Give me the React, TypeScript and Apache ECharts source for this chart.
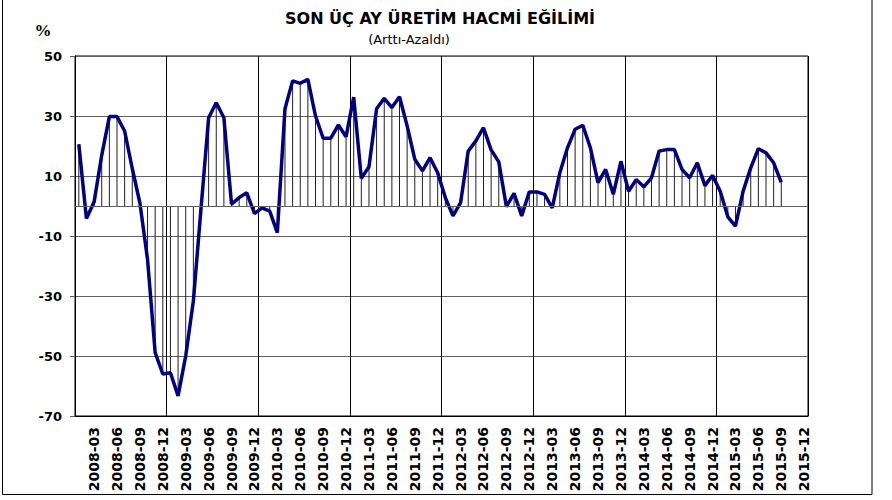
import React, { useEffect, useRef } from "react";
import * as echarts from "echarts";

const years = [2008, 2009, 2010, 2011, 2012, 2013, 2014, 2015];
const months = ["01", "02", "03", "04", "05", "06", "07", "08", "09", "10", "11", "12"];
const categories = years.flatMap((y) => months.map((m) => `${y}-${m}`));

const trendValues = [
  20.6, -4.2, 1.3, 16.9, 29.8, 29.8, 25.0, 12.5, 1.0, -17.8, -48.9, -56.0,
  -55.6, -63.3, -50.0, -31.7, -1.0, 29.4, 34.4, 29.4, 0.6, 2.8, 4.4, -2.5,
  -0.6, -1.7, -8.9, 32.4, 41.7, 40.9, 42.2, 30.0, 22.6, 22.6, 27.0, 23.1,
  36.3, 9.2, 13.1, 32.4, 35.9, 32.8, 36.4, 26.7, 15.6, 11.7, 16.1, 11.1,
  2.8, -3.3, 1.1, 18.3, 21.7, 26.1, 18.7, 14.7, -0.2, 4.2, -3.3, 4.7,
  4.7, 3.9, -0.6, 11.1, 19.4, 25.6, 26.9, 19.4, 7.8, 12.2, 3.9, 14.9,
  4.9, 8.8, 6.4, 9.4, 18.3, 18.8, 18.8, 12.2, 9.4, 14.4, 6.8, 10.2,
  4.9, -3.6, -6.7, 4.9, 12.7, 19.1, 17.7, 14.4, 7.9,
];

const yTickValues = [-70, -50, -30, -10, 10, 30, 50];
const titleText = "SON ÜÇ AY ÜRETİM HACMİ EĞİLİMİ";
const subtitleText = "(Arttı-Azaldı)";
const unitText = "%";

export default function App() {
  const ref = useRef<HTMLDivElement>(null);

  useEffect(() => {
    document.body.style.margin = "0";
    if (!ref.current) return;
    const chart = echarts.init(ref.current, undefined, { renderer: "svg" });
    const font = '"DejaVu Sans", sans-serif';
    chart.setOption({
      animation: false,
      backgroundColor: "#ffffff",
      grid: {
        left: 75,
        right: 84,
        top: 56,
        bottom: 84,
        show: true,
        borderColor: "#000000",
        borderWidth: 1,
        backgroundColor: "transparent",
      },
      graphic: [
        {
          type: "rect",
          shape: { x: 2.5, y: -2, width: 869.5, height: 496.5 },
          style: { fill: "none", stroke: "#000000", lineWidth: 1 },
          silent: true,
        },
        {
          type: "text",
          x: 440,
          y: 18,
          style: {
            text: titleText,
            fontFamily: font,
            fontWeight: "bold",
            fontSize: 16,
            fill: "#000000",
            align: "center",
            verticalAlign: "middle",
          },
        },
        {
          type: "text",
          x: 409,
          y: 39,
          style: {
            text: subtitleText,
            fontFamily: font,
            fontSize: 13,
            fill: "#000000",
            align: "center",
            verticalAlign: "middle",
          },
        },
        {
          type: "text",
          x: 43,
          y: 30,
          style: {
            text: unitText,
            fontFamily: '"Liberation Serif", serif',
            fontWeight: "bold",
            fontSize: 17,
            fill: "#000000",
            align: "center",
            verticalAlign: "middle",
          },
        },
      ],
      xAxis: {
        type: "category",
        data: categories,
        boundaryGap: true,
        axisLine: { show: true, onZero: false, lineStyle: { color: "#000000", width: 1 } },
        axisTick: { show: false },
        axisLabel: {
          interval: (index: number) => index % 3 === 2,
          rotate: 90,
          margin: 11,
          color: "#000000",
          fontFamily: font,
          fontWeight: "bold",
          fontSize: 14,
        },
        splitLine: {
          show: true,
          interval: (index: number) => index % 12 === 0,
          lineStyle: { color: "#000000", width: 1 },
        },
      },
      yAxis: {
        type: "value",
        min: -70,
        max: 50,
        axisLine: { show: true, lineStyle: { color: "#000000", width: 1 } },
        axisTick: {
          show: true,
          length: 5,
          customValues: yTickValues,
          lineStyle: { color: "#606060" },
        },
        axisLabel: {
          customValues: yTickValues,
          margin: 13,
          color: "#000000",
          fontFamily: font,
          fontWeight: "bold",
          fontSize: 13,
        },
        splitLine: { show: true, lineStyle: { color: "#606060", width: 1 } },
      },
      series: [
        {
          type: "bar",
          data: trendValues,
          barWidth: 1,
          itemStyle: { color: "#202020" },
          silent: true,
          z: 2,
          markLine: {
            silent: true,
            symbol: "none",
            label: { show: false },
            lineStyle: { color: "#606060", width: 1, type: "solid" },
            data: [{ yAxis: 0 }],
          },
        },
        {
          type: "line",
          data: trendValues,
          showSymbol: false,
          symbol: "none",
          lineStyle: { color: "#000080", width: 3.5 },
          itemStyle: { color: "#000080" },
          z: 3,
        },
      ],
    });
    return () => chart.dispose();
  }, []);

  return <div ref={ref} style={{ width: 892, height: 500 }} />;
}
